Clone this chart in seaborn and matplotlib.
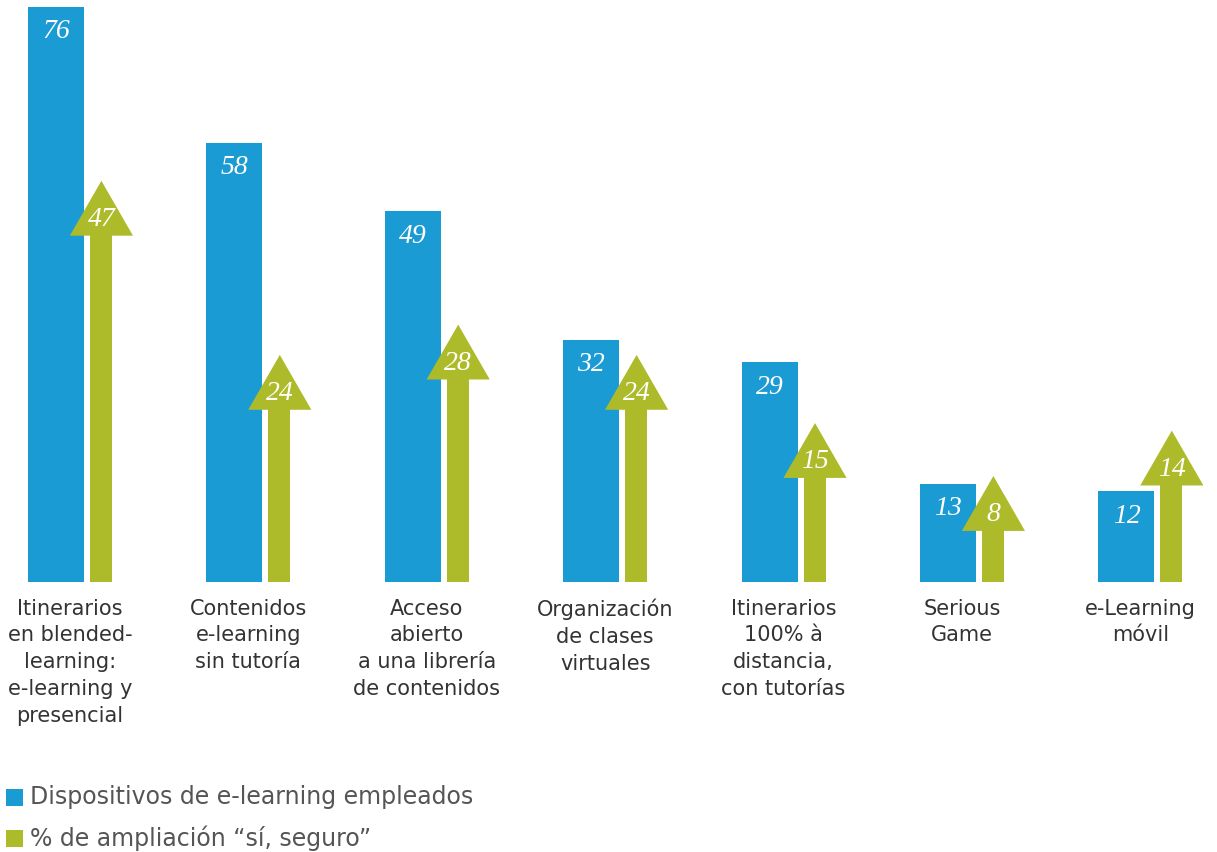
#Dispositivos de e-learning - barras + flechas con Seaborn

#Imports
import numpy as np
import pandas as pd
import matplotlib.pyplot as plt
from matplotlib.patches import Rectangle
import seaborn as sea

#Datos
categorias = ["Itinerarios\nen blended-\nlearning:\ne-learning y\npresencial",
              "Contenidos\ne-learning\nsin tutoría",
              "Acceso\nabierto\na una librería\nde contenidos",
              "Organización\nde clases\nvirtuales",
              "Itinerarios\n100% à\ndistancia,\ncon tutorías",
              "Serious\nGame",
              "e-Learning\nmóvil"]
empleados = [76, 58, 49, 32, 29, 13, 12]
ampliacion = [47, 24, 28, 24, 15, 8, 14]
leyenda = ["Dispositivos de e-learning empleados", "% de ampliación “sí, seguro”"]

azul = "#1B9BD3"
verde = "#ADBB2A"

sea.set_style("white")
plt.rcParams['font.family'] = ['DejaVu Sans']

fig = plt.figure(figsize=(12.17, 8.52), dpi=100)
ax = fig.add_axes([0, 270 / 852, 1, 582 / 852])

#Barras azules
sea.barplot(x=categorias, y=empleados, color=azul, width=0.314, saturation=1,
            linewidth=0, ax=ax)
#Tronco de las flechas verdes
sea.barplot(x=categorias, y=ampliacion, color=verde, width=0.123, saturation=1,
            linewidth=0, ax=ax)

n = len(categorias)
for i, p in enumerate(ax.patches):
    p.set_linewidth(0)
    if i < n:
        p.set_x(p.get_x() - 0.0785)
    else:
        p.set_x(p.get_x() + 0.174)
        p.set_height(p.get_height() - 1.0)

#Cabeza de las flechas + etiquetas
for i in range(n):
    v = ampliacion[i]
    cx = i + 0.176
    ax.fill([cx - 0.177, cx + 0.177, cx], [v - 1.25, v - 1.25, v + 6.0],
            color=verde, lw=0, clip_on=False)
    ax.text(cx, v + 0.9, str(v), ha='center', va='center', color='white',
            fontsize=20, style='italic', family='Liberation Serif')
    ax.text(i - 0.0785, empleados[i] - 3.3, str(empleados[i]), ha='center', va='center',
            color='white', fontsize=20, style='italic', family='Liberation Serif')

ax.set_xlim(-70 / 178.4, (1217 - 70) / 178.4)
ax.set_ylim(0, 582 / 7.57)
ax.set_yticks([])
ax.set_ylabel("")
ax.tick_params(axis='x', length=0, pad=12, labelsize=15, labelcolor='#333333')
for t in ax.get_xticklabels():
    t.set_linespacing(1.42)
sea.despine(ax=ax, left=True, bottom=True)

#Leyenda
for k, (txt, col) in enumerate(zip(leyenda, [azul, verde])):
    yc = (852 - 797 - 41 * k) / 852
    fig.patches.append(Rectangle((6 / 1217, yc - 8.5 / 852), 17 / 1217, 17 / 852,
                                 transform=fig.transFigure, color=col, lw=0, figure=fig))
    fig.text(30 / 1217, yc, txt, ha='left', va='center', fontsize=17, color='#555555')

fig.savefig("out.png", dpi=100)
